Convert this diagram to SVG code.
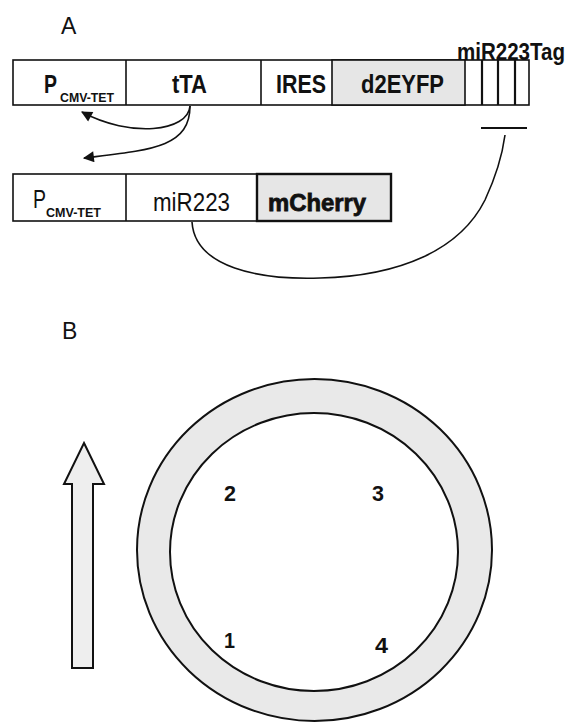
<svg xmlns="http://www.w3.org/2000/svg" width="571" height="722" viewBox="0 0 571 722">
<style>
.box{fill:#fff;stroke:#111;stroke-width:1.6}
.gray{fill:#e6e6e6;stroke:#111;stroke-width:1.6}
.lbl{font-family:"Liberation Sans",Arial,sans-serif;fill:#111}
.b{font-weight:bold}
.con{fill:none;stroke:#111;stroke-width:1.6}
.ring{fill:#e9e9e9;stroke:#111;stroke-width:2}
</style>
<defs>
<marker id="ah" viewBox="0 0 10 10" refX="9" refY="5" markerWidth="15" markerHeight="11" markerUnits="userSpaceOnUse" orient="auto">
<path d="M0,0 L10,5 L0,10 z" fill="#111"/>
</marker>
</defs>
<rect width="571" height="722" fill="#fff"/>
<text class="lbl" x="61" y="34" font-size="23">A</text>
<text class="lbl" x="62" y="339" font-size="23">B</text>

<g id="top-construct">
<rect class="box" x="13" y="60" width="516" height="45"/>
<rect class="gray" x="332" y="60" width="133" height="45"/>
<line x1="126" y1="60" x2="126" y2="105" stroke="#111" stroke-width="1.6"/>
<line x1="261" y1="60" x2="261" y2="105" stroke="#111" stroke-width="1.6"/>
<line x1="482" y1="60" x2="482" y2="105" stroke="#111" stroke-width="2.2"/>
<line x1="498" y1="60" x2="498" y2="105" stroke="#111" stroke-width="2.2"/>
<line x1="515" y1="60" x2="515" y2="105" stroke="#111" stroke-width="2.2"/>
<text class="lbl b" x="44" y="93" font-size="25" textLength="13" lengthAdjust="spacingAndGlyphs">P</text>
<text class="lbl b" x="60" y="102" font-size="12" textLength="54" lengthAdjust="spacingAndGlyphs">CMV-TET</text>
<text class="lbl b" x="172" y="93" font-size="25" textLength="35" lengthAdjust="spacingAndGlyphs">tTA</text>
<text class="lbl b" x="276" y="93" font-size="25" textLength="50" lengthAdjust="spacingAndGlyphs">IRES</text>
<text class="lbl b" x="361" y="93" font-size="25" textLength="83" lengthAdjust="spacingAndGlyphs">d2EYFP</text>
<text class="lbl b" x="457" y="60" font-size="23" textLength="108" lengthAdjust="spacingAndGlyphs">miR223Tag</text>
<line x1="481" y1="128" x2="527" y2="128" stroke="#111" stroke-width="1.8"/>
</g>

<g id="bottom-construct">
<rect class="box" x="13" y="174" width="244" height="47"/>
<line x1="126" y1="174" x2="126" y2="221" stroke="#111" stroke-width="1.6"/>
<rect x="257" y="174" width="134" height="47" fill="#e6e6e6" stroke="#111" stroke-width="2.4"/>
<text class="lbl" x="33" y="208" font-size="25" textLength="13" lengthAdjust="spacingAndGlyphs">P</text>
<text class="lbl b" x="46" y="217" font-size="12" textLength="55" lengthAdjust="spacingAndGlyphs">CMV-TET</text>
<text class="lbl" x="153" y="211" font-size="25" textLength="77" lengthAdjust="spacingAndGlyphs">miR223</text>
<text class="lbl b" x="268" y="211" font-size="24" textLength="98" lengthAdjust="spacingAndGlyphs" stroke="#111" stroke-width="0.8">mCherry</text>
</g>

<g id="connectors">
<path class="con" d="M190,106 C188,132 130,138 82,112" marker-end="url(#ah)"/>
<path class="con" d="M190,106 C190,148 150,150 84,158" marker-end="url(#ah)"/>
<path class="con" d="M192,222 C195,268 260,280 320,278 C400,276 460,250 485,200 C498,172 503,150 505,135"/>
</g>

<g id="plate">
<ellipse class="ring" cx="314.5" cy="550" rx="177.5" ry="171"/>
<ellipse cx="314" cy="552" rx="144" ry="139" fill="#fff" stroke="#111" stroke-width="2"/>
<text class="lbl b" x="224" y="501" font-size="22" textLength="12" lengthAdjust="spacingAndGlyphs">2</text>
<text class="lbl b" x="372" y="501" font-size="22" textLength="12" lengthAdjust="spacingAndGlyphs">3</text>
<text class="lbl b" x="224" y="648" font-size="22" textLength="11" lengthAdjust="spacingAndGlyphs">1</text>
<text class="lbl b" x="375" y="653" font-size="22" textLength="13" lengthAdjust="spacingAndGlyphs">4</text>
</g>

<g id="direction-arrow">
<path d="M84,443 L104,484 L93,484 L93,668 L72,668 L72,484 L64,484 Z" fill="#eeeeee" stroke="#111" stroke-width="2" stroke-linejoin="miter"/>
</g>
</svg>
